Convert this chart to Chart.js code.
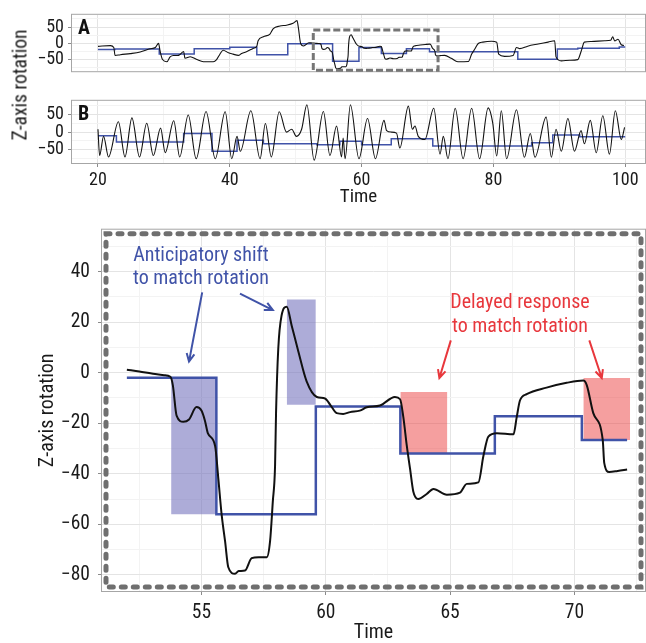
<!DOCTYPE html>
<html>
<head>
<meta charset="utf-8">
<script src="https://cdn.jsdelivr.net/npm/chart.js@4.4.0/dist/chart.umd.min.js"></script>
<style>
  body { margin: 0; background: #fff; width: 646px; height: 643px; position: relative; overflow: hidden; }
  canvas { position: absolute; left: 0; }
  #ylab {
    position: absolute; left: 20px; top: 85px;
    transform: translate(-50%, -50%) rotate(-90deg);
    white-space: nowrap; font-size: 19.5px; color: #1a1a1a;
    font-family: 'Roboto', sans-serif; font-stretch: condensed;
  }
</style>
</head>
<body>
<canvas id="chartA" width="646" height="86" style="top:0px"></canvas>
<canvas id="chartB" width="646" height="124" style="top:86px"></canvas>
<canvas id="chartZoom" width="646" height="433" style="top:210px"></canvas>
<div id="ylab">Z-axis rotation</div>
<script>
// panel A: head rotation (black) and target rotation (blue steps)
var timeA = [20, 21.9, 22.4, 22.6, 23.4, 24.9, 26.4, 27.9, 28.7, 29.2, 29.4, 29.8, 30.45, 30.95, 31.45, 32.06, 32.5, 33.0, 33.2, 34.0,
  35.0, 36.0, 37.5, 38.0, 38.5, 39.0, 39.8, 40.5, 41.3, 41.8, 42.6, 43.6, 44.1, 44.3, 45.1, 46.1, 46.6, 47.6, 48.6, 49.6,
  50.2, 50.4, 50.75, 51.2, 52.0, 52.5, 53.0, 53.5, 53.75, 53.85, 54.0, 54.27, 54.5, 54.8, 55.0, 55.14, 55.26, 55.55, 55.68, 55.81,
  55.95, 56.08, 56.35, 56.5, 56.75, 57.02, 57.3, 57.63, 57.76, 57.87, 57.96, 58.0, 58.09, 58.22, 58.43, 58.63, 58.9, 59.23, 59.64, 59.97,
  60.2, 60.44, 60.7, 60.98, 61.37, 61.65, 62.18, 62.78, 62.99, 63.12, 63.26, 63.39, 63.52, 63.72, 64.06, 64.33, 64.87, 65.4, 65.67, 66.14,
  66.34, 66.54, 66.88, 67.55, 67.68, 67.81, 68.08, 68.88, 69.69, 70.36, 70.5, 70.76, 71.14, 71.2, 71.4, 71.74, 72.12, 72.6, 73.6, 74.6,
  76.2, 76.7, 77.2, 77.7, 78.4, 79.7, 80.5, 80.8, 81.7, 83.0, 83.5, 84.0, 85.2, 86.8, 88.3, 89.3, 89.5, 90.3, 91.6, 92.8,
  93.3, 93.8, 94.85, 96.9, 97.8, 98.1, 98.4, 98.9, 99.4, 99.8];
var rotA = [-10, -7.5, -13.4, -38.4, -35.8, -32.5, -27.6, -17.6, -13.4, -0.8, -21.8, -50.8, -57.6, -42.6, -38.4, -38.4, -34.3, -25.9, -46.8, -42,
  -50.8, -57.6, -57.6, -50.8, -34.3, -21.8, -30.1, -34, -38, -32, -26, -15.8, -9.3, 7.4, 20, 28.3, 45, 53, 55.8, 61.6,
  70, 49, -1, -9, 1.2, 0.5, -0.3, -1.0, -1.6, -5, -17, -19.4, -18.5, -13.6, -15, -19, -24, -29, -42, -56,
  -66.7, -77, -79.6, -78.5, -78.3, -73.4, -73, -73, -66.7, -51, -37, -16, 9.6, 22.5, 26.1, 18.6, 8.3, -3.4, -9.6, -10.2,
  -13, -16, -16.3, -15.6, -15, -13.7, -13, -9.6, -10.5, -17.6, -29, -38, -47, -50, -48, -46, -48.3, -47.5, -44, -43.4,
  -33, -25.3, -24, -24.4, -17.6, -11, -8.5, -5.9, -4, -3.1, -5, -16, -26.6, -35.7, -39.3, -38.9, -38.3, -38, -47, -57.6,
  -57, -34, -17.6, -1, 3.3, 5.8, 3, -34, -41, -38, -13.4, -17, -9.3, -2.6, 3.3, 7.4, -42.6, -55, -53, -51,
  -26, 3.3, 5, 7.4, 9, 20, 7, 12, -5, -7];
var stepTimeA = [20, 22.6, 29.3, 34.6, 40.0, 44.1, 48.8, 55.6, 59.6, 63.0, 66.8, 70.3, 83.7, 89.7, 92.8, 99.1, 100];
var stepRotA = [-20, -18, -34, -17.6, -12.6, -36, -2, -56, -13.4, -32, -17.2, -26.6, -50, -18, -16, -12, -12];

// panel B
var timeB = [20, 20.25, 20.85, 21.6, 23.1, 24.1, 25.15, 26.3, 27.4, 28.4, 29.5, 30.2, 31.5, 32.4, 33.7, 34.9, 36.4, 37.8, 39.3, 40.3,
  41.1, 41.6, 43.2, 44.6, 45.4, 46.3, 47.5, 48.6, 49.4, 50.1, 50.9, 51.7, 52.8, 54.2, 55.2, 56.2, 56.96, 57.2, 57.5, 58.3,
  59.6, 60.9, 62.1, 63.4, 63.8, 64.5, 65.3, 65.8, 67.1, 67.7, 68.1, 68.6, 69.6, 70.95, 71.9, 72.4, 73.1, 74.2, 75.4, 76.7,
  77.9, 79.2, 79.9, 80.5, 81.2, 82.0, 83.5, 84.7, 85.6, 86.3, 88.0, 88.8, 89.5, 90.3, 91.3, 92.3, 93.3, 93.8, 94.7, 95.6,
  96.6, 97.6, 98.5, 99.4, 99.9];
var rotB = [8, -66, -12, -70, 29, -70, 40, -70, 25, -66, 11, -58, 32, -70, 48, -75, 58, -75, 57, -75,
  -12, -54, 60, -75, 24, -70, 57, 0, 8, -12, 8, 77, -79, 58, -66, 17, -70, -17, -75, 77,
  -75, 38, -75, 33, 4, 0, -3, -45, 73, 8, 17, -12, -21, 67, -62, -12, -75, 67, -75, 67,
  -75, 68, 25, -67, 60, -75, 63, -71, -4, -71, 42, -71, 8, -54, 38, -54, 4, -33, 33, -58,
  46, -62, 60, -21, 13];
var stepTimeB = [20, 22.8, 33.0, 37.3, 41.1, 45.1, 53.2, 56.7, 60.0, 64.5, 70.8, 85.8, 89.0, 93.1, 100];
var stepRotB = [-10, -28, -4, -54, -23, -33, -36, -26, -36, -19, -39, -30, -8, -13, -13];

// zoomed window and highlighted intervals
var zoomFrom = 52.0, zoomTo = 72.12;
var shadeStart = [53.78, 58.43, 63.0, 70.36];
var shadeEnd = [55.6, 59.6, 64.89, 72.24];
var shadeTop = [-1.8, 29, -7.6, -2.1];
var shadeBottom = [-56, -12.7, -32, -26.6];
var shadeKind = ['early', 'early', 'late', 'late'];

// tick positions (labelled ones, minor grid halfway between)
var timeTicksAB = [20, 40, 60, 80, 100];
var rotTicksAB = [-50, 0, 50];
var timeTicksZoom = [55, 60, 65, 70];
var rotTicksZoom = [-80, -60, -40, -20, 0, 20, 40];

var FAMILY = "'Roboto', sans-serif";
var BLUE = '#4053a8';
var RED = '#e8373c';

function cf(size, bold) {
    // condensed face of Roboto (font-stretch keyword goes in the weight slot of the font string)
    return {family: FAMILY, size: size, weight: bold ? 'bold condensed' : 'condensed', lineHeight: 1.2};
}

function pts(ts, vs) {
    return ts.map(function (t, i) { return {x: t, y: vs[i]}; });
}

function clipSteps(ts, vs, a, b) {
    var out = [];
    var cur = vs[0];
    for (var i = 0; i < ts.length; i++) {
        if (ts[i] <= a) cur = vs[i];
        else if (ts[i] < b) out.push({x: ts[i], y: vs[i]});
    }
    out.unshift({x: a, y: cur});
    out.push({x: b, y: out[out.length - 1].y});
    return out;
}

// major ticks plus the minor ones between/around them that fall inside the axis
function withMinor(major) {
    return function (scale) {
        var half = (major[1] - major[0]) / 2;
        var out = [];
        for (var v = major[0] - 2 * half; v <= major[major.length - 1] + 2 * half + 1e-9; v += half) {
            if (v >= scale.min && v <= scale.max) {
                out.push({value: v, major: major.indexOf(v) >= 0});
            }
        }
        scale.ticks = out;
    };
}

function isLabelled(list, v) {
    return list.indexOf(v) >= 0;
}

function minus(v) {
    return v < 0 ? '\u2212' + Math.abs(v) : String(v);
}

function gridOpts(list, ticks) {
    return {
        color: function (c) { return isLabelled(list, c.tick.value) ? '#e4e4e4' : '#f3f3f3'; },
        lineWidth: 1,
        drawTicks: ticks !== false,
        tickLength: 4,
        tickColor: function (c) { return isLabelled(list, c.tick.value) ? '#8a8a8a' : 'rgba(0,0,0,0)'; }
    };
}

// borders, dashed frames, panel letters, annotations
var extras = {
    id: 'extras',
    afterDraw: function (chart, args, o) {
        var ctx = chart.ctx, a = chart.chartArea;
        var xs = chart.scales.x, ys = chart.scales.y;
        ctx.save();
        ctx.strokeStyle = '#a6a6a6';
        ctx.lineWidth = 1;
        ctx.strokeRect(a.left - 0.5, a.top - 0.5, a.right - a.left + 1, a.bottom - a.top + 1);

        if (o.letter) {
            ctx.fillStyle = '#111';
            ctx.font = "bold condensed 20px " + FAMILY;
            ctx.textBaseline = 'top';
            ctx.fillText(o.letter, a.left + 6, a.top + 4);
        }
        if (o.window) {
            var w = o.window;
            ctx.strokeStyle = '#767676';
            ctx.lineWidth = 3;
            ctx.setLineDash([7, 3]);
            var x0 = xs.getPixelForValue(w[0]), x1 = xs.getPixelForValue(w[1]);
            var y0 = ys.getPixelForValue(w[2]), y1 = ys.getPixelForValue(w[3]);
            ctx.strokeRect(x0, y0, x1 - x0, y1 - y0);
            ctx.setLineDash([]);
        }
        if (o.frame) {
            ctx.strokeStyle = '#6f6f6f';
            ctx.lineWidth = 5;
            ctx.lineCap = 'round';
            ctx.setLineDash([4, 8]);
            ctx.strokeRect(a.left + 4, a.top + 4, a.right - a.left - 8, a.bottom - a.top - 8);
            ctx.setLineDash([]);
            ctx.lineCap = 'butt';
        }
        (o.notes || []).forEach(function (n) {
            ctx.fillStyle = n.color;
            ctx.font = "condensed 20px " + FAMILY;
            ctx.textAlign = 'center';
            ctx.textBaseline = 'middle';
            n.lines.forEach(function (s, k) {
                ctx.fillText(s, xs.getPixelForValue(n.x), ys.getPixelForValue(n.y[k]));
            });
        });
        (o.arrows || []).forEach(function (r) {
            var px0 = xs.getPixelForValue(r[0]), py0 = ys.getPixelForValue(r[1]);
            var px1 = xs.getPixelForValue(r[2]), py1 = ys.getPixelForValue(r[3]);
            var ang = Math.atan2(py1 - py0, px1 - px0);
            ctx.strokeStyle = r[4];
            ctx.lineWidth = 2;
            ctx.beginPath();
            ctx.moveTo(px0, py0);
            ctx.lineTo(px1, py1);
            ctx.moveTo(px1 - 9 * Math.cos(ang - 0.45), py1 - 9 * Math.sin(ang - 0.45));
            ctx.lineTo(px1, py1);
            ctx.lineTo(px1 - 9 * Math.cos(ang + 0.45), py1 - 9 * Math.sin(ang + 0.45));
            ctx.stroke();
        });
        ctx.restore();
    }
};

function smallPanel(id, letter, tBlack, vBlack, tStep, vStep, showX, win) {
    var padding = showX ? {left: 0, right: 1, top: 8, bottom: 0} : {left: 0, right: 1, top: 9, bottom: 7};
    return new Chart(document.getElementById(id), {
        type: 'line',
        data: {
            datasets: [
                {
                    data: pts(tStep, vStep), stepped: true, borderColor: BLUE, borderWidth: 1.5,
                    pointRadius: 0, order: 2
                },
                {
                    data: pts(tBlack, vBlack), borderColor: '#111', borderWidth: 1.1,
                    cubicInterpolationMode: 'monotone', pointRadius: 0, order: 1
                }
            ]
        },
        options: {
            responsive: false, animation: false, devicePixelRatio: 1,
            layout: {padding: padding},
            plugins: {legend: {display: false}, tooltip: {enabled: false}, extras: {letter: letter, window: win}},
            scales: {
                x: {
                    type: 'linear', min: 16.06, max: 103,
                    border: {display: false},
                    grid: gridOpts(timeTicksAB, showX),
                    afterBuildTicks: withMinor(timeTicksAB),
                    ticks: {
                        display: showX, autoSkip: false, maxRotation: 0,
                        padding: 3, color: '#1a1a1a', font: cf(18),
                        callback: function (v) { return isLabelled(timeTicksAB, v) ? String(v) : ''; }
                    },
                    title: {display: showX, text: 'Time', color: '#1a1a1a', font: cf(19), padding: {top: 0, bottom: 1}},
                    afterFit: function (s) { s.height = showX ? 47 : 0; }
                },
                y: {
                    min: -87, max: 88,
                    border: {display: false},
                    grid: gridOpts(rotTicksAB),
                    afterBuildTicks: withMinor(rotTicksAB),
                    ticks: {
                        autoSkip: false, padding: 4, color: '#1a1a1a', font: cf(18),
                        callback: function (v) { return isLabelled(rotTicksAB, v) ? minus(v) : ''; }
                    },
                    afterFit: function (s) { s.width = 72; }
                }
            }
        },
        plugins: [extras]
    });
}

smallPanel('chartA', 'A', timeA, rotA, stepTimeA, stepRotA, false, [52.67, 71.6, 40.7, -84]);
smallPanel('chartB', 'B', timeB, rotB, stepTimeB, stepRotB, true, null);

var zoomBlack = pts(timeA, rotA).filter(function (p) { return p.x >= zoomFrom && p.x <= zoomTo; });
var zoomStep = clipSteps(stepTimeA, stepRotA, zoomFrom, zoomTo);

var shadeSets = shadeStart.map(function (s, i) {
    var early = shadeKind[i] === 'early';
    return {
        data: [{x: s, y: shadeTop[i]}, {x: shadeEnd[i], y: shadeTop[i]}],
        fill: {value: shadeBottom[i]},
        backgroundColor: early ? 'rgba(118,116,190,0.6)' : 'rgba(236,70,70,0.52)',
        borderColor: 'rgba(0,0,0,0)', borderWidth: 0, pointRadius: 0, order: 3
    };
});

new Chart(document.getElementById('chartZoom'), {
    type: 'line',
    data: {
        datasets: shadeSets.concat([
            {data: zoomStep, stepped: true, borderColor: BLUE, borderWidth: 2.5, pointRadius: 0, order: 2},
            {data: zoomBlack, borderColor: '#111', borderWidth: 2, cubicInterpolationMode: 'monotone', pointRadius: 0, order: 1}
        ])
    },
    options: {
        responsive: false, animation: false, devicePixelRatio: 1,
        layout: {padding: {left: 30, right: 1, top: 12, bottom: 0}},
        plugins: {
            legend: {display: false}, tooltip: {enabled: false},
            extras: {
                frame: true,
                notes: [
                    {x: 54.98, y: [46.1, 37.2], lines: ['Anticipatory shift', 'to match rotation'], color: BLUE},
                    {x: 67.81, y: [27.5, 18.2], lines: ['Delayed response', 'to match rotation'], color: RED}
                ],
                arrows: [
                    [55.03, 31.8, 54.5, 4.4, BLUE],
                    [56.55, 31.3, 57.87, 24.8, BLUE],
                    [65.03, 12.8, 64.57, -2.1, RED],
                    [70.6, 12.8, 71.1, -2.1, RED]
                ]
            }
        },
        scales: {
            x: {
                type: 'linear', min: 51.0, max: 72.84,
                border: {display: false},
                grid: gridOpts(timeTicksZoom),
                afterBuildTicks: withMinor(timeTicksZoom),
                ticks: {
                    autoSkip: false, maxRotation: 0, padding: 6,
                    color: '#1a1a1a', font: cf(19.5),
                    callback: function (v) { return isLabelled(timeTicksZoom, v) ? String(v) : ''; }
                },
                title: {display: true, text: 'Time', color: '#1a1a1a', font: {family: FAMILY, size: 20, weight: 'condensed', lineHeight: 1}, padding: {top: 0, bottom: 0}},
                afterFit: function (s) { s.height = 52; }
            },
            y: {
                min: -86.4, max: 56.6,
                border: {display: false},
                grid: gridOpts(rotTicksZoom),
                afterBuildTicks: withMinor(rotTicksZoom),
                ticks: {
                    autoSkip: false, padding: 8, color: '#1a1a1a', font: cf(19.5),
                    callback: function (v) { return isLabelled(rotTicksZoom, v) ? minus(v) : ''; }
                },
                title: {display: true, text: 'Z-axis rotation', color: '#1a1a1a', font: cf(20), padding: {top: 6, bottom: 0}},
                afterFit: function (s) { s.width = 72; }
            }
        }
    },
    plugins: [extras]
});
</script>
</body>
</html>
